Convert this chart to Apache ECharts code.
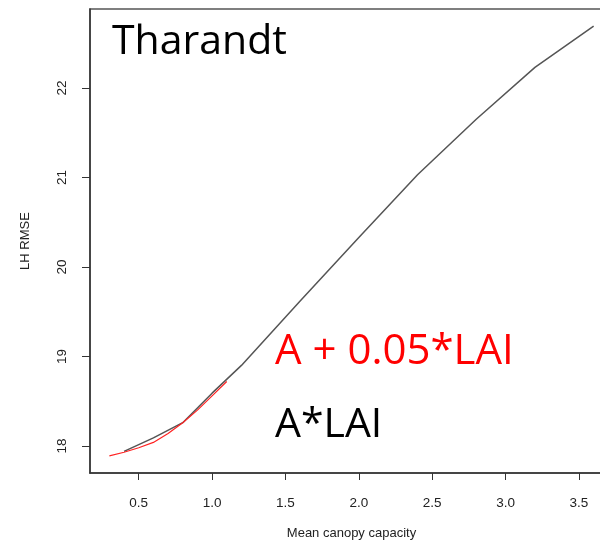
<!DOCTYPE html>
<html>
<head>
<meta charset="utf-8">
<script src="https://cdn.jsdelivr.net/npm/echarts@6/dist/echarts.min.js"></script>
<style>
    html, body { margin: 0; padding: 0; background: #fff; }
    #main { width: 600px; height: 551px; }
</style>
</head>
<body>
<div id="main"></div>
<script>
// 数据
var xTicks = [0.5, 1.0, 1.5, 2.0, 2.5, 3.0, 3.5];
var yTicks = [18, 19, 20, 21, 22];

// A*LAI (黑线)
var blackX = [0.4, 0.6, 0.8, 1.0, 1.2, 1.6, 2.0, 2.4, 2.8, 3.2, 3.6];
var blackY = [17.94, 18.09, 18.26, 18.59, 18.9, 19.62, 20.33, 21.03, 21.65, 22.23, 22.69];

// A + 0.05*LAI (红线)
var redX = [0.3, 0.4, 0.5, 0.6, 0.7, 0.8, 0.9, 1.0, 1.1];
var redY = [17.89, 17.93, 17.98, 18.04, 18.14, 18.26, 18.4, 18.56, 18.72];

(function() {
    var pairs = function(xs, ys) {
        return xs.map(function(x, i) { return [x, ys[i]]; });
    };
    var myechart = echarts.init(document.getElementById('main'));
    var labelFont = { fontFamily: 'Liberation Sans', fontSize: 13, color: '#222' };
    var option = {
        animation: false,
        grid: {
            left: 90,
            top: 9,
            width: 523,
            height: 464,
            outerBoundsMode: 'none',
            containLabel: false,
            show: true,
            borderColor: '#555',
            borderWidth: 1.5
        },
        xAxis: {
            type: 'value',
            min: 0.168,
            max: 3.732,
            name: 'Mean canopy capacity',
            nameLocation: 'middle',
            nameGap: 54,
            nameTextStyle: labelFont,
            axisLine: { show: true, lineStyle: { color: '#333', width: 1.5 } },
            axisTick: { show: true, length: 7, customValues: xTicks, lineStyle: { color: '#333' } },
            axisLabel: {
                customValues: xTicks,
                margin: 23,
                fontFamily: 'Liberation Sans', fontSize: 13.5, color: '#222',
                formatter: function(v) { return v.toFixed(1); }
            },
            splitLine: { show: false }
        },
        yAxis: {
            type: 'value',
            min: 17.698,
            max: 22.882,
            name: 'LH RMSE',
            nameLocation: 'middle',
            nameGap: 58,
            nameTextStyle: labelFont,
            axisLine: { show: true, lineStyle: { color: '#333', width: 1.5 } },
            axisTick: { show: true, length: 8, customValues: yTicks, lineStyle: { color: '#333' } },
            axisLabel: {
                customValues: yTicks,
                rotate: 90,
                margin: 21,
                fontFamily: 'Liberation Sans', fontSize: 13.5, color: '#222'
            },
            splitLine: { show: false }
        },
        graphic: [
            { type: 'text', left: 112, top: 22, style: { text: 'Tharandt', font: '41px "Open Sans"', fill: '#000' } },
            { type: 'text', left: 275, top: 331, style: { text: 'A + 0.05*LAI', font: '42px "Open Sans"', fill: '#ff0000' } },
            { type: 'text', left: 275, top: 405, style: { text: 'A*LAI', font: '41px "Open Sans"', fill: '#000' } }
        ],
        series: [
            {
                name: 'A*LAI',
                type: 'line',
                data: pairs(blackX, blackY),
                showSymbol: false,
                lineStyle: { color: '#555', width: 1.5 },
                z: 2
            },
            {
                name: 'A + 0.05*LAI',
                type: 'line',
                data: pairs(redX, redY),
                showSymbol: false,
                lineStyle: { color: '#f22', width: 1.2 },
                z: 3
            }
        ]
    };
    myechart.setOption(option);
})();
</script>
</body>
</html>
